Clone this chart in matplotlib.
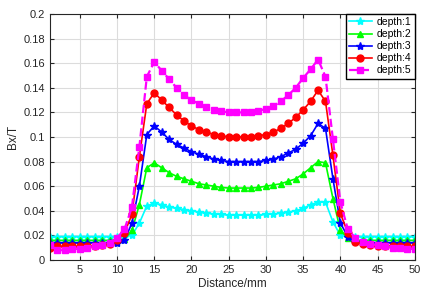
import matplotlib.pyplot as plt

plt.rcParams['font.family'] = ['Liberation Sans', 'DejaVu Sans']

# distance along the sensor, mm
x = list(range(1, 51))

# Bx/T at each depth
depth1 = [0.019, 0.019, 0.019, 0.019, 0.019, 0.019, 0.019, 0.019, 0.019, 0.019,
          0.019, 0.020, 0.030, 0.044, 0.046, 0.045, 0.043, 0.042, 0.041, 0.040,
          0.039, 0.038, 0.0375, 0.037, 0.0365, 0.0365, 0.0365, 0.0365, 0.0365, 0.037,
          0.0375, 0.038, 0.039, 0.040, 0.042, 0.045, 0.047, 0.047, 0.031, 0.020,
          0.019, 0.019, 0.019, 0.019, 0.019, 0.019, 0.019, 0.019, 0.019, 0.019]
depth2 = [0.016, 0.016, 0.016, 0.016, 0.016, 0.016, 0.016, 0.016, 0.016, 0.016,
          0.017, 0.024, 0.045, 0.075, 0.079, 0.075, 0.071, 0.068, 0.066, 0.064,
          0.062, 0.061, 0.060, 0.059, 0.0585, 0.0585, 0.0585, 0.0585, 0.059, 0.060,
          0.061, 0.062, 0.064, 0.066, 0.070, 0.075, 0.080, 0.079, 0.050, 0.024,
          0.018, 0.016, 0.016, 0.016, 0.016, 0.016, 0.016, 0.016, 0.016, 0.016]
depth3 = [0.014, 0.014, 0.014, 0.014, 0.014, 0.014, 0.014, 0.014, 0.014, 0.014,
          0.016, 0.030, 0.060, 0.102, 0.109, 0.104, 0.098, 0.094, 0.091, 0.088,
          0.086, 0.084, 0.082, 0.081, 0.080, 0.080, 0.080, 0.080, 0.080, 0.081,
          0.082, 0.084, 0.087, 0.090, 0.095, 0.101, 0.111, 0.107, 0.066, 0.030,
          0.019, 0.015, 0.014, 0.014, 0.014, 0.014, 0.014, 0.014, 0.014, 0.014]
depth4 = [0.010, 0.011, 0.011, 0.011, 0.011, 0.011, 0.011, 0.012, 0.013, 0.016,
          0.022, 0.037, 0.084, 0.127, 0.136, 0.130, 0.124, 0.118, 0.113, 0.109,
          0.106, 0.104, 0.102, 0.101, 0.100, 0.100, 0.100, 0.100, 0.101, 0.102,
          0.104, 0.107, 0.111, 0.116, 0.122, 0.129, 0.138, 0.129, 0.085, 0.038,
          0.022, 0.015, 0.013, 0.012, 0.011, 0.011, 0.011, 0.011, 0.011, 0.011]
depth5 = [0.012, 0.008, 0.008, 0.009, 0.009, 0.010, 0.011, 0.012, 0.014, 0.018,
          0.025, 0.043, 0.092, 0.149, 0.161, 0.154, 0.147, 0.140, 0.134, 0.130,
          0.127, 0.124, 0.122, 0.121, 0.120, 0.120, 0.120, 0.120, 0.121, 0.123,
          0.125, 0.129, 0.134, 0.140, 0.148, 0.155, 0.163, 0.149, 0.098, 0.047,
          0.025, 0.018, 0.015, 0.013, 0.012, 0.011, 0.010, 0.010, 0.009, 0.009]

fig = plt.figure(figsize=(4.29, 2.98), dpi=100)
ax = fig.add_axes([0.1166, 0.1275, 0.8504, 0.8255])

ax.plot(x, depth1, color='cyan', marker='*', markersize=6, linewidth=1.2, label='depth:1')
ax.plot(x, depth2, color='#00ff00', marker='^', markersize=5, linewidth=1.2, label='depth:2')
ax.plot(x, depth3, color='blue', marker='*', markersize=6, linewidth=1.2, label='depth:3')
ax.plot(x, depth4, color='red', marker='o', markersize=5, linewidth=1.2, label='depth:4')
ax.plot(x, depth5, color='magenta', marker='s', markersize=5, linewidth=1.6,
        linestyle='--', label='depth:5')

ax.set_xlim(1, 50)
ax.set_ylim(0, 0.2)
ax.set_xticks(range(5, 51, 5))
yt = [i * 0.02 for i in range(11)]
ax.set_yticks(yt)
ax.set_yticklabels(['0', '0.02', '0.04', '0.06', '0.08', '0.1', '0.12', '0.14',
                    '0.16', '0.18', '0.2'])
ax.grid(True, color='#dcdcdc', linewidth=0.8)
ax.set_axisbelow(True)
ax.tick_params(direction='in', top=True, right=True, labelsize=8, length=3,
               colors='#262626')
for s in ax.spines.values():
    s.set_color('#262626')
    s.set_linewidth(0.8)

ax.set_xlabel('Distance/mm', fontsize=8.5, color='#262626', labelpad=2)
ax.set_ylabel('Bx/T', fontsize=8.5, color='#262626', labelpad=3)

leg = ax.legend(loc='upper right', fontsize=7.5, borderaxespad=0, fancybox=False,
                framealpha=1, edgecolor='black', handlelength=2.2, labelspacing=0.2,
                borderpad=0.3, handletextpad=0.5)
leg.get_frame().set_linewidth(1.0)

fig.savefig('out.png', dpi=100)
